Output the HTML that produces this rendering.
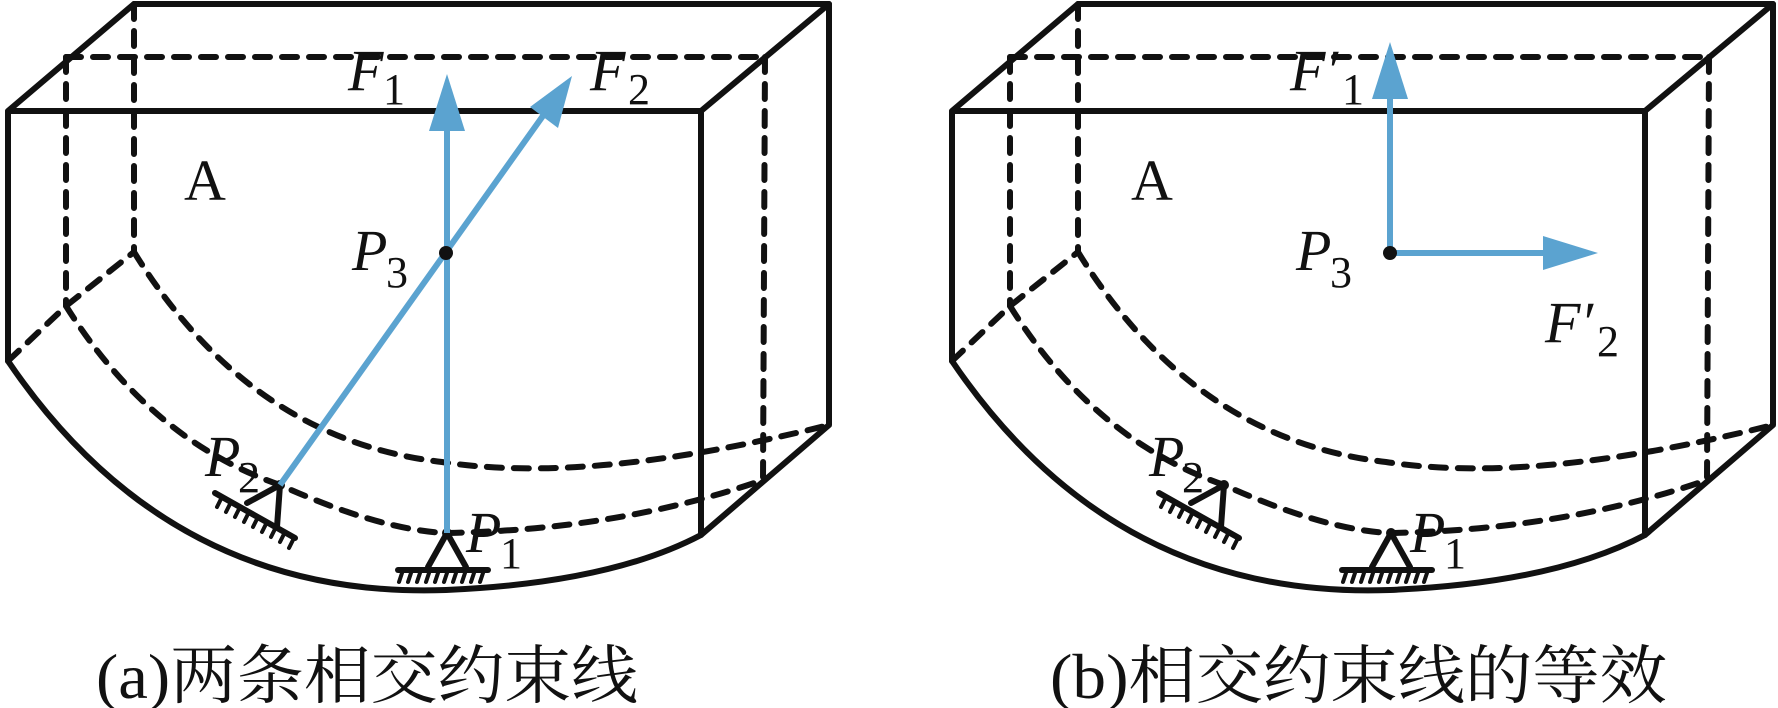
<!DOCTYPE html>
<html><head><meta charset="utf-8"><style>
html,body{margin:0;padding:0;background:#fff;}
svg{display:block;}
.it{font-family:"Liberation Serif",serif;font-style:italic;fill:#111;}
.rm{font-family:"Liberation Serif",serif;fill:#111;}
.cap{font-family:"Liberation Serif","Noto Serif CJK SC",serif;fill:#111;}
</style></head><body>
<svg width="1778" height="708" viewBox="0 0 1778 708" xmlns="http://www.w3.org/2000/svg">
<defs>
<g id="box" fill="none" stroke="#111" stroke-linecap="round" stroke-linejoin="round">
  <g stroke-width="6">
    <path d="M8 111 L701 111 L829 4 L134 4 L8 111 L8 361"/>
    <path d="M701 111 L701 535 L829 425 L829 4"/>
    <path d="M8 361 Q 170 600 446 590 Q 610 583 701 535"/>
  </g>
  <g stroke-width="6" stroke-dasharray="15 12">
    <path d="M66 57 L765 57"/>
    <path d="M66 57 L66 306"/>
    <path d="M134 4 L134 252"/>
    <path d="M765 57 L763 480"/>
    <path d="M8 361 L66 306 L134 252"/>
    <path d="M134 252 Q 250 440 442 462 Q 590 485 829 425"/>
    <path d="M66 306 Q 150 440 280 485 Q 380 530 446 533 Q 620 530 763 480"/>
  </g>
  <g stroke-width="6">
    <path d="M280 485 L247 503 M280 485 L277 527"/>
    <path d="M215 493 L295 538"/>
  </g>
  <g stroke-width="4">
    <path d="M222 497 l-5 10 M231 502 l-5 10 M240 507 l-5 10 M249 512 l-5 10 M258 517 l-5 10 M267 522 l-5 10 M276 527 l-5 10 M285 532 l-5 10 M294 538 l-5 10"/>
  </g>
  <g stroke-width="6">
    <path d="M447 533 L428 567 M447 533 L466 567"/>
    <path d="M398 570 L488 570"/>
  </g>
  <g stroke-width="4">
    <path d="M403 570 l-4 12 M412 570 l-4 12 M421 570 l-4 12 M430 570 l-4 12 M439 570 l-4 12 M448 570 l-4 12 M457 570 l-4 12 M466 570 l-4 12 M475 570 l-4 12 M484 570 l-4 12"/>
  </g>
  <circle cx="280" cy="485" r="5" fill="#111" stroke="none"/>
  <circle cx="447" cy="533" r="5" fill="#111" stroke="none"/>
</g>
</defs>

<use href="#box"/>
<use href="#box" transform="translate(944,0)"/>

<g stroke="#5ba3d0" stroke-width="6" fill="none">
  <path d="M447 533 L447 125"/>
  <path d="M280 485 L545 113"/>
</g>
<polygon points="447,74 429,131 465,131" fill="#5ba3d0"/>
<polygon points="572,76 530,107 558,128" fill="#5ba3d0"/>
<circle cx="446" cy="253" r="7" fill="#111"/>

<g stroke="#5ba3d0" stroke-width="6" fill="none">
  <path d="M1390 253 L1390 95"/>
  <path d="M1390 253 L1550 253"/>
</g>
<polygon points="1390,42 1372,99 1408,99" fill="#5ba3d0"/>
<polygon points="1598,253 1543,236 1543,270" fill="#5ba3d0"/>
<circle cx="1390" cy="253" r="7" fill="#111"/>

<g font-size="58">
<text class="it" x="348" y="90">F</text><text class="rm" x="383" y="104" font-size="44">1</text>
<text class="it" x="590" y="90">F</text><text class="rm" x="628" y="104" font-size="44">2</text>
<text class="rm" x="184" y="200">A</text>
<text class="it" x="352" y="270">P</text><text class="rm" x="386" y="287" font-size="44">3</text>
<text class="it" x="205" y="476">P</text><text class="rm" x="238" y="492" font-size="44">2</text>
<text class="it" x="466" y="552">P</text><text class="rm" x="500" y="568" font-size="44">1</text>
</g>
<g font-size="58">
<text class="it" x="1290" y="90">F′</text><text class="rm" x="1342" y="104" font-size="44">1</text>
<text class="rm" x="1131" y="200">A</text>
<text class="it" x="1296" y="270">P</text><text class="rm" x="1330" y="287" font-size="44">3</text>
<text class="it" x="1545" y="342">F′</text><text class="rm" x="1597" y="356" font-size="44">2</text>
<text class="it" x="1149" y="476">P</text><text class="rm" x="1182" y="492" font-size="44">2</text>
<text class="it" x="1410" y="552">P</text><text class="rm" x="1444" y="568" font-size="44">1</text>
</g>

<text class="cap" x="96" y="698" font-size="64" textLength="542" lengthAdjust="spacingAndGlyphs">(a)两条相交约束线</text>
<text class="cap" x="1050" y="698" font-size="64" textLength="617" lengthAdjust="spacingAndGlyphs">(b)相交约束线的等效</text>
</svg>
</body></html>
